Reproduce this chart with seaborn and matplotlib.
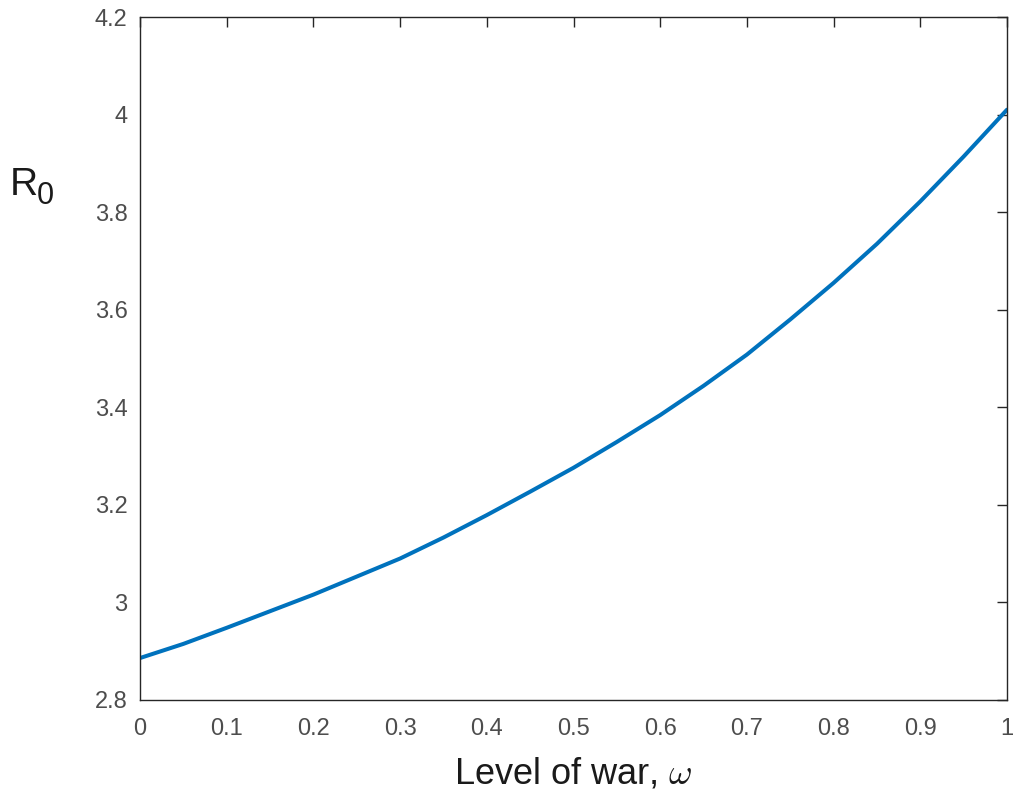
import matplotlib
matplotlib.use("Agg")
import matplotlib.pyplot as plt
import seaborn as sns
import pandas as pd

war_level = [0.0, 0.05, 0.1, 0.15, 0.2, 0.25, 0.3, 0.35, 0.4, 0.45, 0.5,
             0.55, 0.6, 0.65, 0.7, 0.75, 0.8, 0.85, 0.9, 0.95, 1.0]
r0_values = [2.886, 2.915, 2.948, 2.982, 3.016, 3.053, 3.090, 3.133, 3.179, 3.227, 3.276,
             3.329, 3.384, 3.444, 3.508, 3.580, 3.655, 3.735, 3.822, 3.914, 4.010]
x_ticks = [0, 0.1, 0.2, 0.3, 0.4, 0.5, 0.6, 0.7, 0.8, 0.9, 1]
x_tick_labels = ["0", "0.1", "0.2", "0.3", "0.4", "0.5", "0.6", "0.7", "0.8", "0.9", "1"]
y_ticks = [2.8, 3.0, 3.2, 3.4, 3.6, 3.8, 4.0, 4.2]
y_tick_labels = ["2.8", "3", "3.2", "3.4", "3.6", "3.8", "4", "4.2"]

sns.set_style("white")
plt.rcParams["font.family"] = ["Liberation Sans", "DejaVu Sans"]
plt.rcParams["mathtext.fontset"] = "cm"

df = pd.DataFrame({"w": war_level, "R0": r0_values})

fig = plt.figure(figsize=(10.16, 7.93), dpi=100)
ax = fig.add_axes([140/1016, 1 - 700/793, (1007-140)/1016, (700-17)/793])

sns.lineplot(data=df, x="w", y="R0", ax=ax, color="#0072BD", linewidth=2.9)

ax.set_xlim(0, 1)
ax.set_ylim(2.8, 4.2)
ax.set_xticks(x_ticks)
ax.set_xticklabels(x_tick_labels)
ax.set_yticks(y_ticks)
ax.set_yticklabels(y_tick_labels)

tick_col = "#4d4d4d"
ax.tick_params(direction="in", length=7, width=1, colors="#262626",
               labelcolor=tick_col, labelsize=17, top=True, right=True)
ax.tick_params(axis="x", pad=13)
ax.tick_params(axis="y", pad=9)
for s in ax.spines.values():
    s.set_visible(True)
    s.set_color("#262626")
    s.set_linewidth(1.0)

ax.set_xlabel("Level of war, $\\omega$", fontsize=26, color="#1a1a1a", labelpad=12)
ax.set_ylabel("")
fig.text(10/1016, 1 - 195/793, "R", fontsize=28, color="#1a1a1a", ha="left", va="baseline")
fig.text(37/1016, 1 - 204/793, "0", fontsize=22, color="#1a1a1a", ha="left", va="baseline")

fig.savefig("out.png", dpi=100)
